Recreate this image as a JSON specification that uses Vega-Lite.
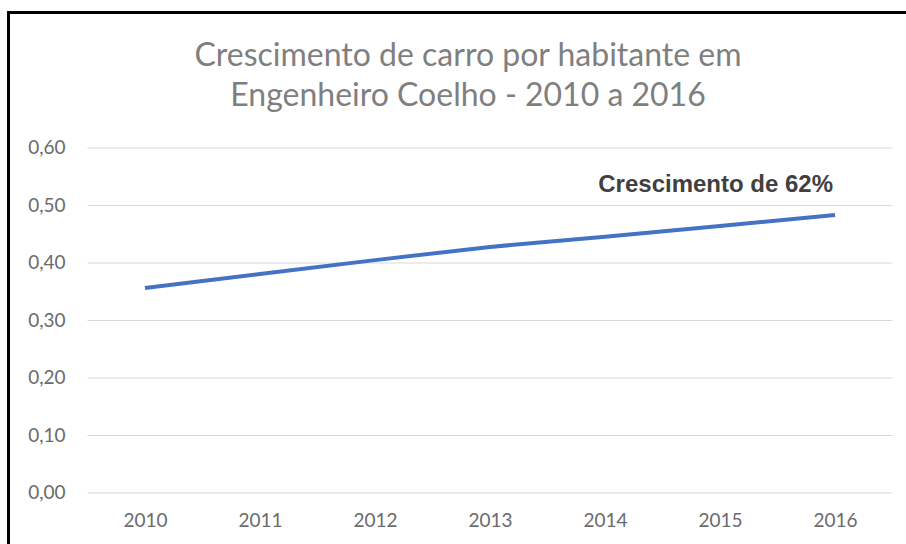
{
  "$schema": "https://vega.github.io/schema/vega-lite/v6.json",
  "autosize": {"type": "none"},
  "padding": {"left": 8, "top": 12, "right": 0, "bottom": 0},
  "width": 898,
  "height": 532,
  "background": "white",
  "config": {"view": {"stroke": null}, "font": "Lato"},
  "title": {
    "text": ["Crescimento de carro por habitante em", "Engenheiro Coelho - 2010 a 2016"],
    "anchor": "middle",
    "dx": 11,
    "offset": -101,
    "baseline": "top",
    "font": "Lato",
    "fontSize": 32,
    "fontWeight": "normal",
    "color": "#7f7f7f",
    "lineHeight": 40
  },
  "datasets": {
    "series": [
      {"year": 2010, "value": 0.3565},
      {"year": 2011, "value": 0.381},
      {"year": 2012, "value": 0.405},
      {"year": 2013, "value": 0.428},
      {"year": 2014, "value": 0.4457},
      {"year": 2015, "value": 0.4645},
      {"year": 2016, "value": 0.4835}
    ],
    "ticks": [
      {"tick": 0}, {"tick": 0.1}, {"tick": 0.2}, {"tick": 0.3}, {"tick": 0.4}, {"tick": 0.5}, {"tick": 0.6}
    ]
  },
  "layer": [
    {
      "data": {"name": "ticks"},
      "mark": {"type": "rule", "color": "#d9d9d9", "strokeWidth": 1},
      "encoding": {
        "y": {
          "field": "tick",
          "type": "quantitative",
          "title": null,
          "scale": {"domain": [-0.0887, 0.8365], "nice": false, "zero": false},
          "axis": {
            "orient": "left",
            "values": [0, 0.1, 0.2, 0.3, 0.4, 0.5, 0.6],
            "labelExpr": "replace(format(datum.value, '.2f'), '.', ',')",
            "domain": true,
            "domainColor": "black",
            "domainWidth": 3,
            "domainCap": "square",
            "ticks": false,
            "tickSize": 0,
            "grid": false,
            "labelPadding": -57,
            "labelFont": "Lato",
            "labelFontSize": 19,
            "labelColor": "#6b6b6b",
            "title": null
          }
        },
        "x": {
          "datum": 2009.5,
          "type": "quantitative",
          "title": null,
          "scale": {"domain": [2008.809, 2016.617], "nice": false, "zero": false},
          "axis": {
            "orient": "top",
            "values": [2010, 2011, 2012, 2013, 2014, 2015, 2016],
            "format": "d",
            "domain": true,
            "domainColor": "black",
            "domainWidth": 3,
            "domainCap": "square",
            "ticks": false,
            "tickSize": 0,
            "grid": false,
            "labelPadding": -508,
            "labelBaseline": "middle",
            "labelFlush": false,
            "labelOverlap": false,
            "labelFont": "Lato",
            "labelFontSize": 19,
            "labelColor": "#6b6b6b",
            "title": null
          }
        },
        "x2": {"datum": 2016.5}
      }
    },
    {
      "data": {"name": "series"},
      "mark": {"type": "line", "color": "#4472C4", "strokeWidth": 4},
      "encoding": {
        "x": {"field": "year", "type": "quantitative", "title": null},
        "y": {"field": "value", "type": "quantitative", "title": null}
      }
    },
    {
      "data": {"values": [{"label": "Crescimento de 62%"}]},
      "mark": {"type": "text", "align": "right", "baseline": "alphabetic", "dx": -2, "font": "Liberation Sans", "fontSize": 24, "fontWeight": "bold", "color": "#404040"},
      "encoding": {
        "x": {"datum": 2016, "type": "quantitative"},
        "y": {"datum": 0.5235, "type": "quantitative"},
        "text": {"field": "label"}
      }
    }
  ]
}
